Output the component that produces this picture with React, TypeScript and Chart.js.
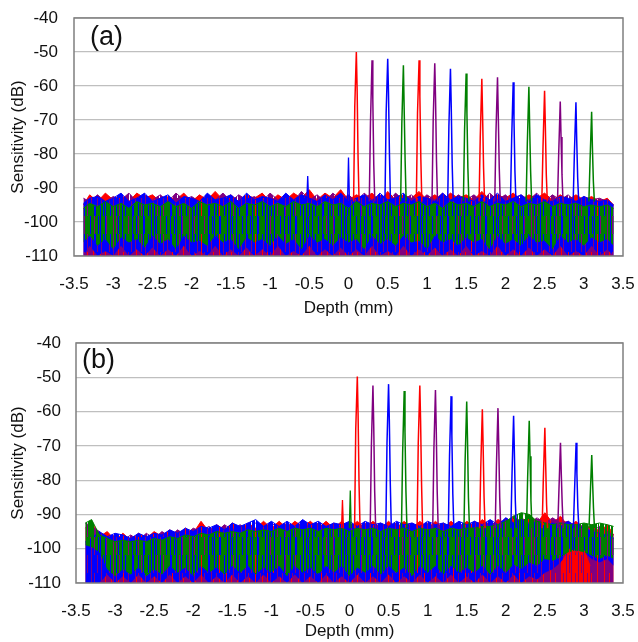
import React, { useEffect, useRef } from "react";
import { Chart, registerables } from "chart.js";
Chart.register(...registerables);

// ---------- axes ----------
const X_TICKS = [-3.5, -3, -2.5, -2, -1.5, -1, -0.5, 0, 0.5, 1, 1.5, 2, 2.5, 3, 3.5];
const Y_TICKS = [-110, -100, -90, -80, -70, -60, -50, -40];

// ---------- noise floor envelopes (sampled every 0.1 mm) ----------
const X_NOISE = [
  -3.38, -3.3, -3.2, -3.1, -3, -2.9, -2.8, -2.7, -2.6, -2.5,
  -2.4, -2.3, -2.2, -2.1, -2, -1.9, -1.8, -1.7, -1.6, -1.5,
  -1.4, -1.3, -1.2, -1.1, -1, -0.9, -0.8, -0.7, -0.6, -0.5,
  -0.4, -0.3, -0.2, -0.1, 0, 0.1, 0.2, 0.3, 0.4, 0.5,
  0.6, 0.7, 0.8, 0.9, 1, 1.1, 1.2, 1.3, 1.4, 1.5,
  1.6, 1.7, 1.8, 1.9, 2, 2.1, 2.2, 2.3, 2.4, 2.5,
  2.6, 2.7, 2.8, 2.9, 3, 3.1, 3.2, 3.3, 3.38,
];

// panel (a)
const RED_TOP_A = [
  -95, -92, -94, -91.5, -93.5, -92, -94, -91.5, -93, -92,
  -94, -92.5, -93.5, -91.5, -94, -92, -93.5, -91, -93.5, -92,
  -94, -92, -93, -91.5, -94, -92, -93.5, -91.5, -93, -90.5,
  -93.5, -91.5, -93, -90.5, -93.5, -92, -93, -91.5, -94, -91,
  -93.5, -92, -93, -91, -93.5, -92, -93.5, -91.5, -93, -92,
  -93.5, -91, -93.5, -92, -93, -91.5, -93.5, -92, -93, -91.5,
  -93.5, -92, -93.5, -92, -93.5, -92.5, -94, -93, -95,
];
const PURPLE_TOP_A = [
  -93, -94, -92, -94, -92.5, -93.5, -91.5, -94, -92, -93.5,
  -92, -94, -91.5, -93.5, -92.5, -94, -92, -93.5, -91.5, -94,
  -92, -93.5, -92.5, -94, -91.5, -93.5, -92, -94, -91, -93.5,
  -92, -94, -91.5, -93.5, -92, -94, -91.5, -93.5, -92, -94,
  -91.5, -93.5, -92, -94, -92, -93.5, -91.5, -94, -92, -93.5,
  -92, -94, -91.5, -93.5, -92, -94, -92, -93.5, -91.5, -94,
  -92, -93.5, -92, -94, -92.5, -93.5, -93, -94, -95,
];
const BLUE_TOP_A = [
  -94.5, -93, -92.5, -94, -93, -91.5, -94, -93, -91.5, -94,
  -93, -92, -94.5, -92.5, -93, -94, -91.5, -93.5, -93, -92,
  -94, -91.5, -93.5, -92.5, -93, -94, -91.5, -93.5, -92, -93,
  -94, -92, -93.5, -91.5, -94, -93, -92, -94, -91.5, -93.5,
  -93, -91.5, -94, -92.5, -93, -94, -91.5, -93.5, -92.5, -93,
  -94, -92, -93.5, -91.5, -94, -93, -92, -94, -92, -93.5,
  -94, -92.5, -93, -94, -92.5, -93.5, -94, -93.5, -95,
];
const BLUE_BOT_A = [
  -110, -107, -110, -108.5, -110, -107, -110, -108, -110, -107.5,
  -110, -108, -110, -107, -110, -108.5, -110, -107, -110, -108,
  -110, -107.5, -110, -108, -110, -107, -110, -108.5, -110, -107,
  -110, -108, -110, -107.5, -110, -108, -110, -107, -110, -108.5,
  -110, -107, -110, -108, -110, -107.5, -110, -108, -110, -107,
  -110, -108.5, -110, -107, -110, -108, -110, -107.5, -110, -108,
  -110, -107, -110, -108.5, -110, -107, -110, -108, -110,
];
const GREEN_TOP_A = [
  -96, -94.5, -95.5, -94, -95.5, -94.5, -96, -94, -95, -94.5,
  -95.5, -94, -95.5, -94.5, -96, -94, -95, -94.5, -95.5, -94,
  -96, -94.5, -95, -94, -95.5, -94.5, -95.5, -94, -95, -94.5,
  -95.5, -94, -95, -94.5, -96, -94, -95.5, -94.5, -95, -94,
  -95.5, -94.5, -95, -94, -95.5, -94.5, -96, -94, -95, -94.5,
  -95.5, -94, -95.5, -94.5, -95, -94, -95.5, -94.5, -95, -94,
  -95.5, -94.5, -95, -94.5, -95.5, -95, -95.5, -95, -96,
];
const GREEN_BOT_A = [
  -106, -104, -107, -105, -108, -104.5, -106, -105, -107.5, -104,
  -106.5, -105, -108, -104, -106, -105.5, -107, -104, -106, -105,
  -108, -104.5, -106, -105, -107, -104, -106.5, -105, -108, -104,
  -106, -105, -107, -104.5, -106, -105, -108, -104, -106.5, -105,
  -107, -104, -106, -105.5, -108, -104, -106, -105, -107, -104.5,
  -106, -105, -108, -104, -106.5, -105, -107, -104, -106, -105.5,
  -108, -104, -106, -105, -107, -104.5, -106, -105, -107,
];

// panel (b)
const RED_TOP_B = [
  -94, -92, -96.5, -95, -97.5, -95.5, -97.5, -95.5, -97, -95,
  -96.5, -94.5, -96, -94, -95.5, -92, -95, -93, -94.5, -92.5,
  -94.5, -92.5, -94, -92, -94, -92, -94, -92, -93.5, -92,
  -94, -92, -94, -92, -94, -92, -94, -92, -94, -92,
  -94, -92, -94, -92, -94, -92, -94, -92, -94, -92,
  -93.5, -91.5, -93.5, -91.5, -92.5, -90.5, -92.5, -90, -92.5, -89.5,
  -92.5, -90.5, -93.5, -92, -94.5, -93, -95, -93, -96,
];
const PURPLE_TOP_B = [
  -92.5, -93.5, -95, -97, -96, -97.5, -96, -97.5, -95.5, -97,
  -95, -96.5, -94.5, -96, -94, -95, -93.5, -95, -93, -94.5,
  -93, -94.5, -92.5, -94, -92.5, -94, -92.5, -94, -92, -94,
  -92.5, -94, -92.5, -94, -92.5, -94, -92.5, -94, -92.5, -94,
  -92.5, -94, -92.5, -94, -92.5, -94, -92.5, -94, -92.5, -94,
  -92, -93.5, -92, -93.5, -91, -92.5, -91, -92.5, -91, -92.5,
  -91, -92.5, -92, -94, -93, -95, -93.5, -95, -96,
];
const BLUE_TOP_B = [
  -98, -97, -95, -96.5, -95.5, -96, -97, -95.5, -96.5, -95.5,
  -96, -94.5, -95.5, -94, -95, -93.5, -94, -93, -94.5, -92.5,
  -93.5, -92.5, -91.5, -93.5, -92, -93.5, -92, -93.5, -91.5, -93,
  -92, -93.5, -92.5, -93, -92, -93.5, -92, -93, -92.5, -93.5,
  -92, -93, -92.5, -93.5, -92, -93, -92.5, -93.5, -92, -93,
  -92, -93, -91.5, -93, -91, -92.5, -91.5, -93, -92, -93.5,
  -92.5, -93.5, -92, -93.5, -94, -95, -95.5, -96, -97,
];
const BLUE_BOT_B = [
  -110, -110, -110, -107.5, -110, -108, -110, -107.5, -110, -108,
  -110, -107.5, -110, -108, -110, -107.5, -110, -108, -110, -107.5,
  -110, -108, -110, -107.5, -110, -108, -110, -107.5, -110, -108,
  -110, -107.5, -110, -108, -110, -107.5, -110, -108, -110, -107.5,
  -110, -108, -110, -107.5, -110, -108, -110, -107.5, -110, -108,
  -110, -107.5, -110, -108, -110, -107.5, -110, -108, -109, -107,
  -106, -104, -101, -100, -101, -103, -104, -103, -105,
];
const GREEN_TOP_B = [
  -92.5, -91.5, -96, -97, -98, -97.5, -98, -97.5, -98, -97,
  -97.5, -96.5, -97, -96, -96.5, -95.5, -96, -95, -95.5, -95,
  -95.5, -94.5, -95, -94.5, -95, -94, -95, -94, -94.5, -94,
  -95, -94, -94.5, -94, -95, -94, -94.5, -94, -95, -94,
  -94.5, -94, -95, -94, -94.5, -94, -95, -94, -94.5, -94,
  -94, -93.5, -93.5, -93, -92, -90.5, -89.5, -90, -92, -92.5,
  -93, -92.5, -93, -93, -92.5, -93, -92.5, -93, -93.5,
];
const GREEN_BOT_B = [
  -99, -99.5, -101, -106, -108, -106, -107.5, -105.5, -108, -106,
  -107.5, -105, -107, -105.5, -108, -105, -107, -105.5, -107.5, -105,
  -107, -105, -107.5, -105.5, -107, -105, -108, -105, -107, -105.5,
  -107.5, -105, -107, -105, -108, -105.5, -107, -105, -107.5, -105,
  -107, -105.5, -108, -105, -107, -105, -107.5, -105, -107, -105.5,
  -107, -105, -107.5, -105, -107, -104.5, -106, -104, -105, -103,
  -103.5, -102.5, -101, -100.5, -101, -102, -103, -102, -103,
];
// dense red patch low in panel (b)
const RED_LOW_X_B = [2.72, 2.8, 2.9, 3.0, 3.08];
const RED_LOW_TOP_B = [-104, -100, -101, -100.5, -105];

// ---------- reflection peaks ----------
const PEAK_X = [0.1, 0.3, 0.5, 0.7, 0.9, 1.1, 1.3, 1.5, 1.7, 1.9, 2.1, 2.3, 2.5, 2.7, 2.9, 3.1];
const PEAK_SERIES = ["red", "purple", "blue", "green", "red", "purple", "blue", "green",
  "red", "purple", "blue", "green", "red", "purple", "blue", "green"];
const PEAK_OFFSETS = [-0.035, -0.02, 0, 0.01, 0.022, 0.035];

const PEAK_A = [-50, -52.4, -52, -53.9, -52.4, -53.3, -54.9, -56.3, -57.9, -57.4, -58.9, -60.2, -61.4, -64.6, -64.8, -67.6];
const LEFT_A = [-66, -71, -68, -71, -68, -70, -72, -73, -75, -74, -76, -77, -78, -80, -80, -82];
const RIGHT1_A = [-61, -64, -62, -67, -63, -64, -66, -68, -69, -69, -70, -72, -72, -75, -76, -78];
const RIGHT2_A = [-81, -83, -80, -82, -81, -82, -83, -84, -84, -84, -85, -85, -86, -86, -87, -88];

const PEAK_B = [-49.8, -52.4, -52, -54, -52.4, -53.7, -55.5, -57.1, -59.3, -59, -61.2, -62.7, -64.7, -69.1, -69.1, -72.7];
const LEFT_B = [-65, -70, -69, -72, -69, -71, -73, -74, -76, -76, -78, -79, -80, -83, -83, -85];
const RIGHT1_B = [-61, -64, -63, -66, -63, -65, -67, -68, -70, -70, -72, -73, -75, -78, -78, -80];
const RIGHT2_B = [-81, -83, -81, -83, -81, -83, -84, -85, -85, -85, -86, -86, -87, -87, -88, -88];

const BASE_DB = -94;

// small isolated spikes
const SPIKE_X_A = [-0.52, 0.0];
const SPIKE_DB_A = [-86.5, -81];
const SPIKE_SERIES_A = ["blue", "blue"];
const SPIKE_X_B = [-0.09, 0.01];
const SPIKE_DB_B = [-85.8, -83];
const SPIKE_SERIES_B = ["red", "green"];

// ---------- styles ----------
const COLORS: Record<string, string> = {
  red: "#ff0000",
  purple: "#800080",
  blue: "#0000ff",
  green: "#008000",
};
// streak textures for the dense noise fills:
// letter = solid column, '.' = see-through column, 'u' = see-through upper half, 'l' = see-through lower half
const STREAKS: Record<string, string> = {
  green: "gg.gulgg.gglgguggg.lggug.gglg.uggglgg.",
  blue: "bbb.bbubblbbb.bbbbubbl",
  purple: "ppp.pppppp.ppppupp",
  red: "r",
  redLow: "rr.rrlr.rrru",
};
const FONT = '"Liberation Sans", Arial, Helvetica, sans-serif';

type Panel = {
  label: string;
  redTop: number[]; purpleTop: number[]; blueTop: number[]; blueBot: number[];
  greenTop: number[]; greenBot: number[];
  redLowX?: number[]; redLowTop?: number[];
  peak: number[]; left: number[]; r1: number[]; r2: number[];
  spikeX: number[]; spikeDb: number[]; spikeSeries: string[];
  plotTop: number; axisW: number; xAxisH: number; yTickPad: number;
  titleBottomPad: number; labelDx: number; labelDy: number;
};

const PANEL_A: Panel = {
  label: "(a)",
  redTop: RED_TOP_A, purpleTop: PURPLE_TOP_A, blueTop: BLUE_TOP_A, blueBot: BLUE_BOT_A,
  greenTop: GREEN_TOP_A, greenBot: GREEN_BOT_A,
  peak: PEAK_A, left: LEFT_A, r1: RIGHT1_A, r2: RIGHT2_A,
  spikeX: SPIKE_X_A, spikeDb: SPIKE_DB_A, spikeSeries: SPIKE_SERIES_A,
  plotTop: 18, axisW: 74, xAxisH: 65, yTickPad: 16, titleBottomPad: 2, labelDx: 16, labelDy: 20,
};
const PANEL_B: Panel = {
  label: "(b)",
  redTop: RED_TOP_B, purpleTop: PURPLE_TOP_B, blueTop: BLUE_TOP_B, blueBot: BLUE_BOT_B,
  greenTop: GREEN_TOP_B, greenBot: GREEN_BOT_B,
  redLowX: RED_LOW_X_B, redLowTop: RED_LOW_TOP_B,
  peak: PEAK_B, left: LEFT_B, r1: RIGHT1_B, r2: RIGHT2_B,
  spikeX: SPIKE_X_B, spikeDb: SPIKE_DB_B, spikeSeries: SPIKE_SERIES_B,
  plotTop: 22, axisW: 76, xAxisH: 59, yTickPad: 15, titleBottomPad: 0, labelDx: 6, labelDy: 18,
};

function pts(xs: number[], ys: number[]) {
  return xs.map((x, i) => ({ x, y: ys[i] }));
}

function makeStreak(ctx: CanvasRenderingContext2D, key: string, color: string): any {
  const str = STREAKS[key];
  const H = 36;
  const c = document.createElement("canvas");
  c.width = str.length;
  c.height = H;
  const g = c.getContext("2d")!;
  g.fillStyle = color;
  for (let i = 0; i < str.length; i++) {
    const ch = str[i];
    if (ch === ".") continue;
    if (ch === "u") g.fillRect(i, H / 2, 1, H / 2);
    else if (ch === "l") g.fillRect(i, 0, 1, H / 2);
    else g.fillRect(i, 0, 1, H);
  }
  return ctx.createPattern(c, "repeat") || color;
}

function buildDatasets(p: Panel, ctx: CanvasRenderingContext2D) {
  const list: any[] = [];
  const line = (color: string, fillStyle: any, data: any[], fill: any, width = 1) => ({
    type: "line",
    data,
    borderColor: color,
    backgroundColor: fillStyle,
    borderWidth: width,
    pointRadius: 0,
    tension: 0,
    fill,
  });
  const hidden = (data: any[]) => ({
    type: "line",
    data,
    borderColor: "rgba(0,0,0,0)",
    backgroundColor: "rgba(0,0,0,0)",
    borderWidth: 1,
    pointRadius: 0,
    fill: false,
  });
  const pat = {
    red: makeStreak(ctx, "red", COLORS.red),
    purple: makeStreak(ctx, "purple", COLORS.purple),
    blue: makeStreak(ctx, "blue", COLORS.blue),
    green: makeStreak(ctx, "green", COLORS.green),
    redLow: makeStreak(ctx, "redLow", COLORS.red),
  };
  list.push(line(COLORS.red, pat.red, pts(X_NOISE, p.redTop), "start"));
  list.push(line(COLORS.purple, pat.purple, pts(X_NOISE, p.purpleTop), "start"));
  list.push(hidden(pts(X_NOISE, p.blueBot)));
  list.push(line(COLORS.blue, pat.blue, pts(X_NOISE, p.blueTop), { target: list.length - 1 }));
  if (p.redLowX && p.redLowTop) {
    list.push(line(COLORS.red, pat.redLow, pts(p.redLowX, p.redLowTop), "start"));
  }
  list.push(hidden(pts(X_NOISE, p.greenBot)));
  list.push(line(COLORS.green, pat.green, pts(X_NOISE, p.greenTop), { target: list.length - 1 }));

  PEAK_X.forEach((x0, i) => {
    const ys = [BASE_DB, p.left[i], p.peak[i], p.r1[i], p.r2[i], BASE_DB];
    const data = PEAK_OFFSETS.map((o, k) => ({ x: x0 + o, y: ys[k] }));
    const c = COLORS[PEAK_SERIES[i]];
    list.push(line(c, c, data, false, 1.5));
  });
  p.spikeX.forEach((x0, i) => {
    const data = [
      { x: x0 - 0.012, y: BASE_DB },
      { x: x0, y: p.spikeDb[i] },
      { x: x0 + 0.012, y: BASE_DB },
    ];
    const c = COLORS[p.spikeSeries[i]];
    list.push(line(c, c, data, false, 1.3));
  });
  const n = list.length;
  list.forEach((d, i) => (d.order = n - i));
  return list;
}

const framePlugin = {
  id: "frame",
  afterDraw(chart: any, _args: any, opts: any) {
    const { ctx, chartArea: a } = chart;
    ctx.save();
    ctx.strokeStyle = "#7f7f7f";
    ctx.lineWidth = 1.5;
    ctx.strokeRect(a.left, a.top, a.right - a.left, a.bottom - a.top);
    ctx.font = `27px ${FONT}`;
    ctx.fillStyle = "#111";
    ctx.textAlign = "left";
    ctx.textBaseline = "middle";
    ctx.fillText(opts.label, a.left + opts.dx, a.top + opts.dy);
    ctx.restore();
  },
};

function ChartPanel({ panel }: { panel: Panel }) {
  const ref = useRef<HTMLCanvasElement | null>(null);
  useEffect(() => {
    if (!ref.current) return;
    const p = panel;
    const ctx = ref.current.getContext("2d")!;
    const chart = new Chart(ref.current, {
      type: "line",
      data: { datasets: buildDatasets(p, ctx) },
      plugins: [framePlugin],
      options: {
        animation: false,
        responsive: false,
        events: [],
        layout: { padding: { top: p.plotTop, right: 15, left: 0, bottom: 0 } },
        plugins: {
          legend: { display: false },
          tooltip: { enabled: false },
          frame: { label: p.label, dx: p.labelDx, dy: p.labelDy },
        } as any,
        scales: {
          x: {
            type: "linear",
            min: -3.5,
            max: 3.5,
            afterBuildTicks: (s: any) => { s.ticks = X_TICKS.map((v) => ({ value: v })); },
            afterFit: (s: any) => {
              s.height = p.xAxisH;
              s.paddingLeft = 0; s.paddingRight = 0; s.paddingTop = 0; s.paddingBottom = 0;
            },
            grid: { display: false, drawTicks: false },
            border: { display: false },
            ticks: {
              autoSkip: false,
              maxRotation: 0,
              padding: 18,
              color: "#111",
              font: { family: FONT, size: 17 },
              callback: (v: any) => String(v),
            },
            title: {
              display: true,
              text: "Depth (mm)",
              color: "#111",
              font: { family: FONT, size: 17 },
              padding: { top: 0, bottom: p.titleBottomPad },
            },
          },
          y: {
            type: "linear",
            min: -110,
            max: -40,
            afterBuildTicks: (s: any) => { s.ticks = Y_TICKS.map((v) => ({ value: v })); },
            afterFit: (s: any) => {
              s.width = p.axisW;
              s.paddingLeft = 0; s.paddingRight = 0; s.paddingTop = 0; s.paddingBottom = 0;
            },
            grid: { color: "#bfbfbf", lineWidth: 1.2, drawTicks: false },
            border: { display: false },
            ticks: {
              padding: p.yTickPad,
              color: "#111",
              font: { family: FONT, size: 17 },
              callback: (v: any) => String(v),
            },
            title: {
              display: true,
              text: "Sensitivity (dB)",
              color: "#111",
              font: { family: FONT, size: 17 },
              padding: { top: 8, bottom: 0 },
            },
          },
        },
      } as any,
    } as any);
    return () => chart.destroy();
  }, [panel]);
  return <canvas ref={ref} width={638} height={321} style={{ display: "block" }} />;
}

export default function App() {
  return (
    <div style={{ position: "absolute", left: 0, top: 0, width: 638, height: 642, background: "#fff" }}>
      <ChartPanel panel={PANEL_A} />
      <ChartPanel panel={PANEL_B} />
    </div>
  );
}
